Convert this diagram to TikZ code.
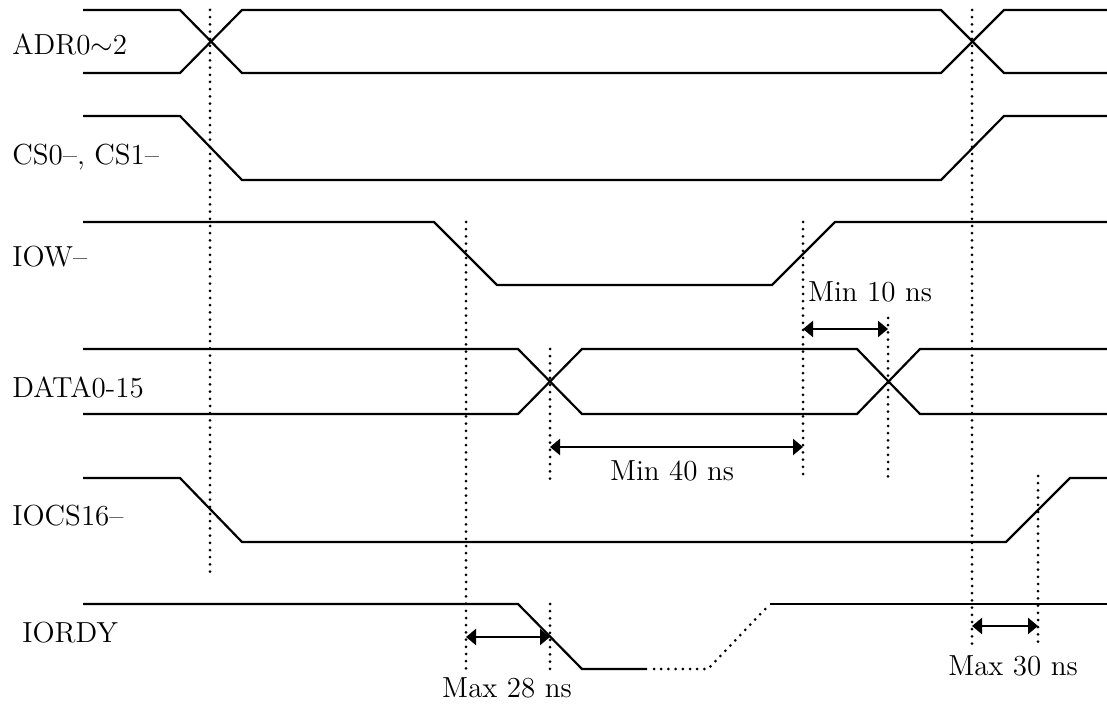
\documentclass[tikz,border=0pt]{standalone}
\usepackage{tikz}
\usetikzlibrary{arrows.meta}

\begin{document}
\begin{tikzpicture}[
    x=0.5pt, y=-0.5pt,
    wave/.style={line width=1.1pt, line join=miter},
    guide/.style={line width=1.5pt, line cap=round, dash pattern=on 0pt off 3.6pt},
    dimline/.style={{Triangle[length=5pt,width=8pt]}-{Triangle[length=5pt,width=8pt]}, line width=1.1pt},
    signame/.style={anchor=base west, inner sep=0pt, font=\fontsize{14.5}{16}\selectfont},
    timing/.style={anchor=base, inner sep=0pt, font=\fontsize{14.5}{16}\selectfont}
]
\useasboundingbox (0,0) rectangle (1107,705);

% Signal names
\node[signame] (adrname) at (12,55) {ADR0$\sim$2};
\node[signame] (csname) at (12,165) {CS0--, CS1--};
\node[signame] (iowname) at (12,267) {IOW--};
\node[signame] (dataname) at (12,397) {DATA0-15};
\node[signame] (iocsname) at (12,525) {IOCS16--};
\node[signame] (iordyname) at (22,642) {IORDY};

% Waveforms
\draw[wave] (83,10) -- (180,10) -- (242,73) -- (941,73) -- (1004,10) -- (1107,10);
\draw[wave] (83,73) -- (180,73) -- (242,10) -- (941,10) -- (1004,73) -- (1107,73);
\draw[wave] (83,116) -- (180,116) -- (242,180) -- (941,180) -- (1004,116) -- (1107,116);
\draw[wave] (83,222) -- (434,222) -- (497,285) -- (772,285) -- (835,222) -- (1107,222);
\draw[wave] (83,349) -- (518,349) -- (582,414) -- (857,414) -- (920,349) -- (1107,349);
\draw[wave] (83,414) -- (518,414) -- (582,349) -- (857,349) -- (920,414) -- (1107,414);
\draw[wave] (83,478) -- (180,478) -- (242,542) -- (1006,542) -- (1070,478) -- (1107,478);
\draw[wave] (83,604) -- (518,604) -- (582,669) -- (647,669);
\draw[guide] (654,669) -- (708,669) -- (770,604);
\draw[wave] (770,604) -- (1107,604);

% Guide lines
\coordinate (g1t) at (210,10);   \coordinate (g1b) at (210,574);
\coordinate (g2t) at (972,10);   \coordinate (g2b) at (972,647);
\coordinate (g3t) at (466,222);  \coordinate (g3b) at (466,670);
\coordinate (g4t) at (550,349);  \coordinate (g4b) at (550,480);
\coordinate (g5t) at (550,604);  \coordinate (g5b) at (550,670);
\coordinate (g6t) at (803,222);  \coordinate (g6b) at (803,480);
\coordinate (g7t) at (888,318);  \coordinate (g7b) at (888,480);
\coordinate (g8t) at (1038,476); \coordinate (g8b) at (1038,647);
\foreach \g in {g1,g2,g3,g4,g5,g6,g7,g8}
    \draw[guide] (\g t) -- (\g b);

% Timing arrows
\coordinate (min10l) at (803,329);  \coordinate (min10r) at (888,329);
\coordinate (min40l) at (550,447);  \coordinate (min40r) at (803,447);
\coordinate (max28l) at (466,637);  \coordinate (max28r) at (550,637);
\coordinate (max30l) at (972,626);  \coordinate (max30r) at (1038,626);
\draw[dimline] (min10l) -- (min10r);
\draw[dimline] (min40l) -- (min40r);
\draw[dimline] (max28l) -- (max28r);
\draw[dimline] (max30l) -- (max30r);

% Timing labels
\node[timing] (min10) at (870,302) {Min 10 ns};
\node[timing] (min40) at (672,480) {Min 40 ns};
\node[timing] (max28) at (507,697) {Max 28 ns};
\node[timing] (max30) at (1013,675) {Max 30 ns};

\end{tikzpicture}
\end{document}
